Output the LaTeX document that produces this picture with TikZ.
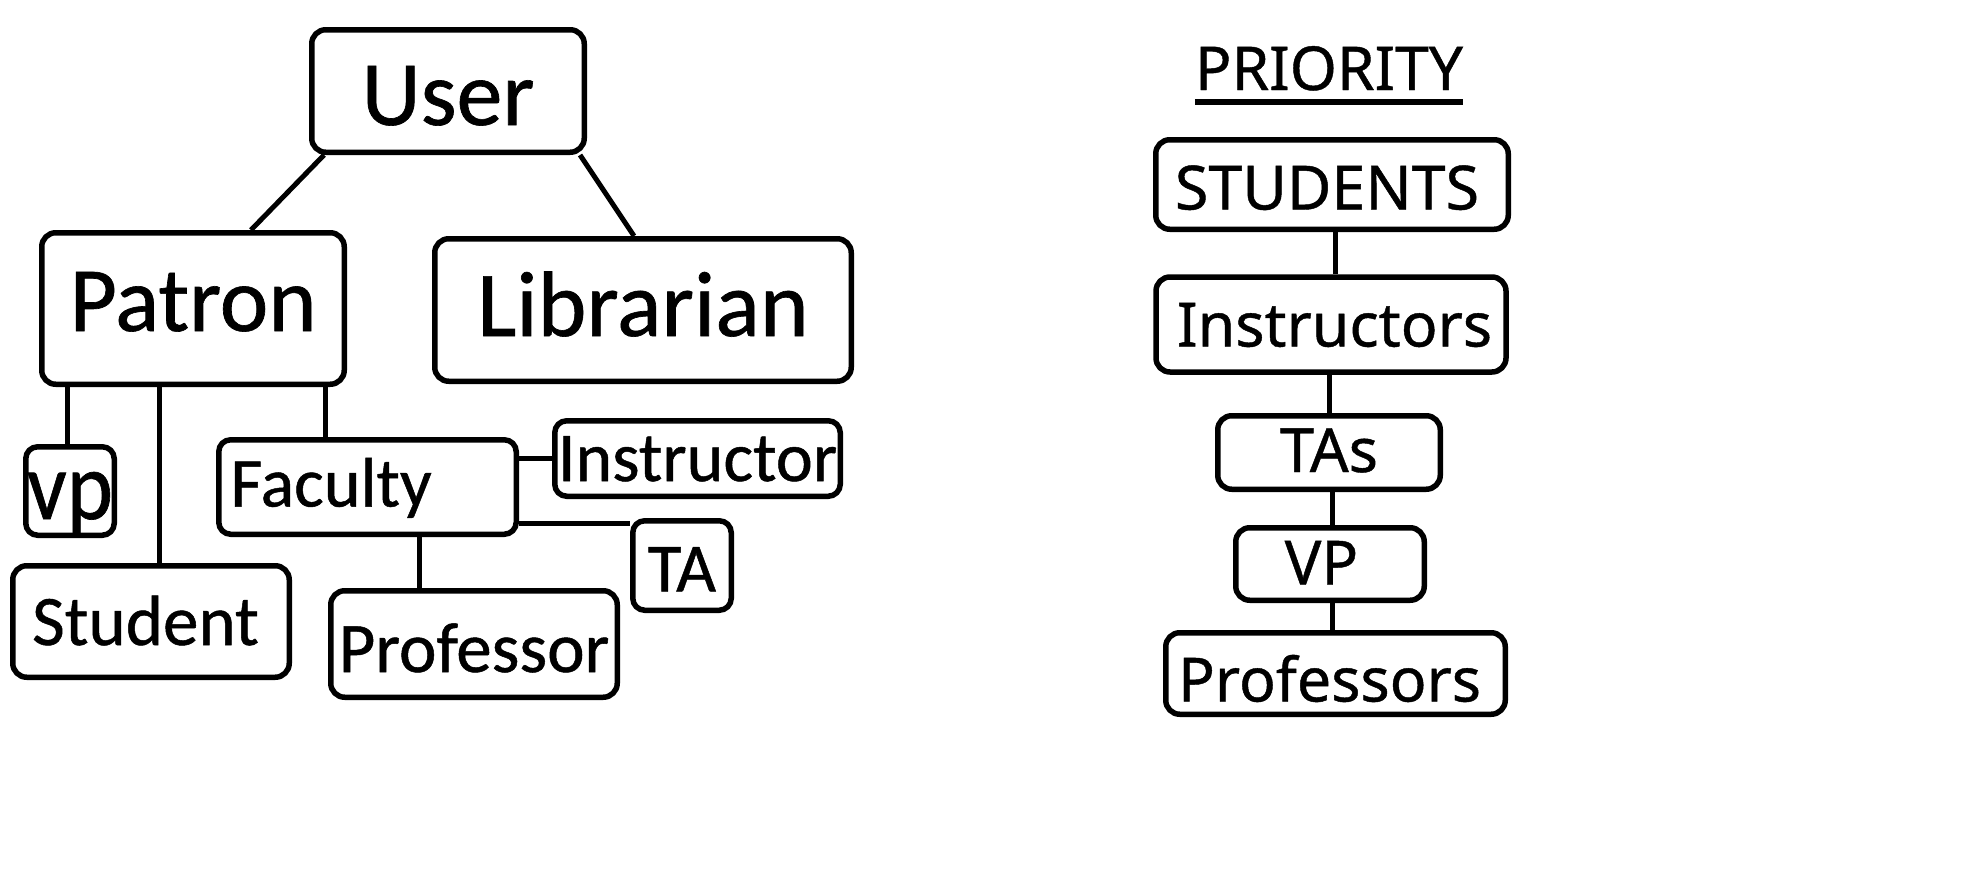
\documentclass[tikz,border=0pt]{standalone}
\usepackage{fontspec}
\setmainfont{Carlito}[FakeBold=0.7]
\newfontfamily\rfont{Noto Sans}[FakeBold=0.7]
\usetikzlibrary{calc}
\newcommand{\fs}[1]{\fontsize{#1}{#1}\selectfont}
\begin{document}
\begin{tikzpicture}[x=1pt,y=-1pt,
  box/.style={draw=black, line width=5.5pt, rounded corners=14pt, inner sep=0pt, anchor=center},
  conn/.style={draw=black, line width=5pt},
]
\useasboundingbox (0,0) rectangle (1979,870);
\fill[white] (0,0) rectangle (1979,870);

% ---------- left hierarchy ----------
\node[box, minimum width=272.5pt, minimum height=122.5pt, text height=68pt, text depth=0pt, font=\fs{92}] (user) at (448,91) {User};
\node[box, minimum width=302.5pt, minimum height=151.5pt, text height=58pt, text depth=13pt, font=\fs{92}] (patron) at (193,308.5) {Patron};
\node[box, minimum width=416.5pt, minimum height=142.5pt, text height=58pt, text depth=6pt, font=\fs{93}] (librarian) at (643,310) {Librarian};
\node[box, minimum width=88.5pt, minimum height=88.5pt, rounded corners=12pt, text height=56pt, text depth=0pt, font=\fs{88}] (vp) at (70,491) {\scalebox{1}[1.1]{vp}};
\node[box, minimum width=276.5pt, minimum height=111.5pt, text height=47pt, text depth=0pt, font=\fs{71}] (student) at (151,621.5) {Student\hspace*{11pt}};
\node[box, minimum width=297.5pt, minimum height=94.5pt, rounded corners=12pt, text height=44pt, text depth=5pt, font=\fs{70}] (faculty) at (367.5,487) {Faculty\hspace*{73pt}};
\node[box, minimum width=285.5pt, minimum height=75.5pt, rounded corners=12pt, text height=45pt, text depth=0pt, font=\fs{70}] (instructor) at (697.5,458.5) {Instructor};
\node[box, minimum width=98.5pt, minimum height=89.5pt, rounded corners=12pt, text height=52pt, text depth=0pt, font=\fs{69}] (ta) at (682,565.5) {TA};
\node[box, minimum width=286.5pt, minimum height=106.5pt, text height=56pt, text depth=0pt, font=\fs{71}] (professor) at (474,644) {Professor};

\draw[conn] ([xshift=15pt]user.south west) -- ([xshift=212pt]patron.north west);
\draw[conn] ([xshift=-7pt]user.south east) -- ([xshift=202pt]librarian.north west);
\draw[conn] ([xshift=28pt]patron.south west) -- ([xshift=28pt]patron.south west |- vp.north);
\draw[conn] ([xshift=120pt]patron.south west) -- ([xshift=120pt]patron.south west |- student.north);
\draw[conn] ([xshift=286pt]patron.south west) -- ([xshift=286pt]patron.south west |- faculty.north);
\draw[conn] (faculty.east |- instructor.west) -- (instructor.west);
\draw[conn] ([yshift=-36pt]faculty.east) -- ([yshift=-36pt]faculty.east -| ta.west);
\draw[conn] ([xshift=203pt]faculty.south west) -- ([xshift=203pt]faculty.south west |- professor.north);

% ---------- right priority list ----------
\node[inner sep=0pt, text height=44pt, text depth=11.5pt, font=\rfont\fs{60.5}] (priority) at (1329,73.75) {PRIORITY};
\draw[line width=6pt] (priority.south west) -- (priority.south east);

\node[box, minimum width=352.5pt, minimum height=89.5pt, text height=50pt, text depth=0pt, font=\rfont\fs{61}] (students) at (1332,184.5) {STUDENTS\hspace*{10pt}};
\node[box, minimum width=350pt, minimum height=95pt, text height=44pt, text depth=0pt, font=\rfont\fs{61}] (instructors) at (1331,324.5) {\hspace*{7pt}Instructors};
\node[box, minimum width=222.5pt, minimum height=73.5pt, text height=44pt, text depth=5pt, font=\rfont\fs{61}] (tas) at (1329,452.5) {TAs};
\node[box, minimum width=188.5pt, minimum height=72.5pt, text height=44pt, text depth=3pt, font=\rfont\fs{61}] (vpr) at (1330,564) {VP\hspace*{17pt}};
\node[box, minimum width=339.5pt, minimum height=81.5pt, text height=56pt, text depth=0pt, font=\rfont\fs{61}] (professors) at (1335.5,673.5) {Professors\hspace*{12pt}};

\draw[conn] ([xshift=3pt]students.south) -- ([xshift=3pt]students.south |- instructors.north);
\draw[conn] ([xshift=-2pt]instructors.south) -- ([xshift=-2pt]instructors.south |- tas.north);
\draw[conn] ([xshift=3pt]tas.south) -- ([xshift=3pt]tas.south |- vpr.north);
\draw[conn] ([xshift=2pt]vpr.south) -- ([xshift=2pt]vpr.south |- professors.north);
\end{tikzpicture}
\end{document}
